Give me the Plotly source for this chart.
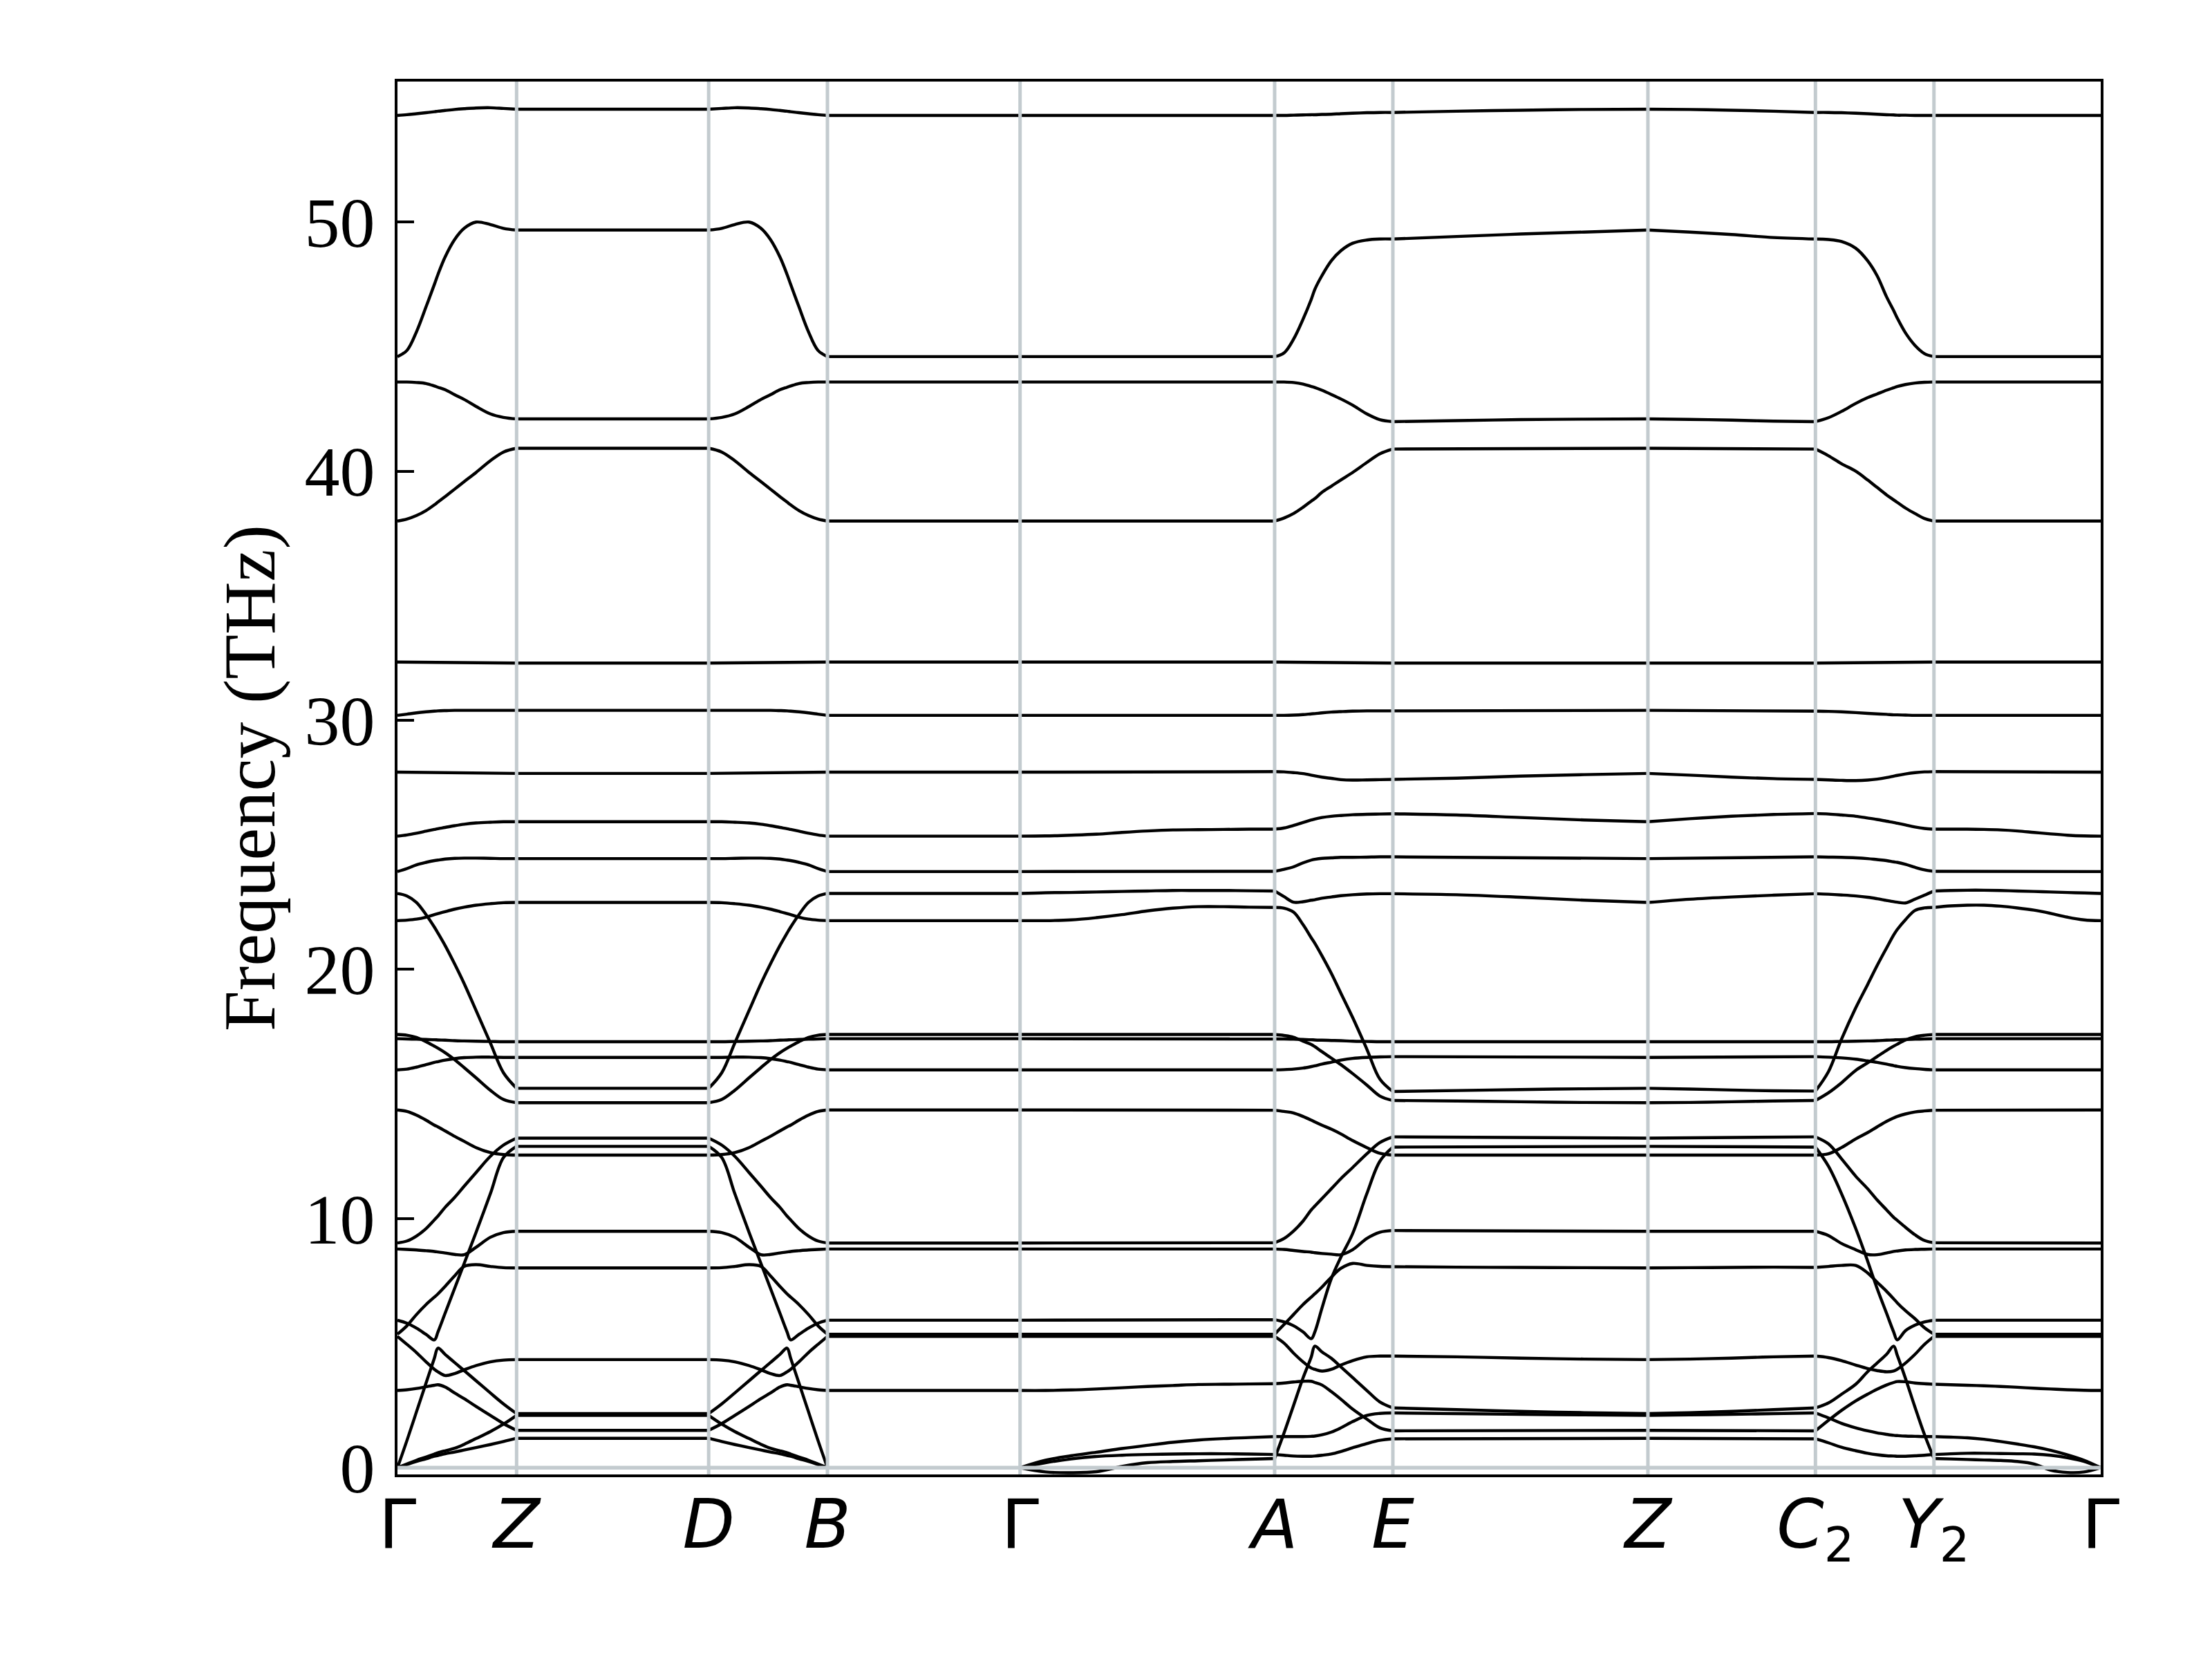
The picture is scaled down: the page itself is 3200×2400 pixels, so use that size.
import plotly.graph_objects as go

# ---- high-symmetry path ----
kpos = [0.0, 0.1723, 0.4501, 0.6219, 0.9005, 1.2687, 1.4397, 1.8086, 2.0509, 2.2223, 2.4635]
klabels = ["Γ", "<i>Z</i>", "<i>D</i>", "<i>B</i>", "Γ", "<i>A</i>", "<i>E</i>",
           "<i>Z</i>", "<i>C</i><sub>2</sub>", "<i>Y</i><sub>2</sub>", "Γ"]

# fractional sampling positions along each segment
frac_curved = [0, 0.08, 0.16, 0.24, 0.31, 0.34, 0.40, 0.48, 0.56, 0.66, 0.78, 0.89, 1.0]
frac_curved_rev = [0, 0.11, 0.22, 0.34, 0.44, 0.52, 0.60, 0.66, 0.69, 0.76, 0.84, 0.92, 1.0]
frac_ten = [0, 0.1, 0.2, 0.3, 0.4, 0.5, 0.6, 0.7, 0.8, 0.9, 1.0]
frac_quarter = [0, 0.25, 0.5, 0.75, 1.0]
frac_flat = [0, 1.0]

# ---- band frequencies (THz) per segment; 2-value bands run straight end to end ----
GZ = [
    [0, 1.1, 2.25, 3.4, 4.4, 4.8, 4.55, 4.22, 3.9, 3.49, 3.0, 2.56, 2.17],
    [0, 0.13, 0.25, 0.36, 0.46, 0.49, 0.56, 0.63, 0.71, 0.81, 0.93, 1.05, 1.18],
    [0, 0.15, 0.3, 0.43, 0.55, 0.6, 0.68, 0.78, 0.94, 1.17, 1.45, 1.75, 2.10],
    [3.10, 3.13, 3.18, 3.25, 3.31, 3.33, 3.24, 3.0, 2.77, 2.46, 2.1, 1.77, 1.50],
    [5.27, 4.95, 4.62, 4.25, 3.95, 3.85, 3.70, 3.78, 3.93, 4.1, 4.25, 4.32, 4.34],
    [5.36, 5.7, 6.15, 6.55, 6.85, 6.98, 7.28, 7.7, 8.08, 8.15, 8.08, 8.03, 8.02],
    [5.92, 5.8, 5.6, 5.35, 5.13, 5.45, 6.2, 7.2, 8.2, 9.45, 11.0, 12.45, 12.90],
    [8.78, 8.76, 8.74, 8.71, 8.68, 8.66, 8.62, 8.56, 8.55, 8.85, 9.25, 9.44, 9.49],
    [9.02, 9.1, 9.3, 9.6, 9.95, 10.1, 10.45, 10.85, 11.3, 11.85, 12.5, 12.95, 13.23],
    [14.36, 14.3, 14.15, 13.95, 13.75, 13.68, 13.52, 13.3, 13.1, 12.85, 12.65, 12.57, 12.55],
    [15.97, 16.0, 16.08, 16.18, 16.27, 16.3, 16.36, 16.42, 16.46, 16.48, 16.48, 16.47, 16.47],
    [17.22, 17.21, 17.2, 17.19, 17.18, 17.17, 17.16, 17.14, 17.13, 17.12, 17.11, 17.1, 17.10],
    [17.39, 17.36, 17.27, 17.1, 16.92, 16.84, 16.66, 16.38, 16.06, 15.65, 15.15, 14.78, 14.65],
    [21.96, 21.98, 22.02, 22.1, 22.2, 22.24, 22.32, 22.42, 22.5, 22.58, 22.64, 22.68, 22.69],
    [23.05, 22.95, 22.69, 22.2, 21.7, 21.46, 20.96, 20.22, 19.43, 18.35, 17.05, 15.85, 15.23],
    [23.93, 24.05, 24.2, 24.3, 24.37, 24.39, 24.43, 24.46, 24.47, 24.47, 24.46, 24.45, 24.45],
    [25.35, 25.4, 25.47, 25.55, 25.62, 25.65, 25.7, 25.77, 25.83, 25.88, 25.91, 25.93, 25.93],
    [27.92, 27.87],
    [30.2, 30.25, 30.3, 30.34, 30.37, 30.38, 30.39, 30.4, 30.4, 30.4, 30.4, 30.4, 30.4],
    [32.34, 32.30],
    [38.0, 38.08, 38.22, 38.42, 38.65, 38.76, 38.98, 39.28, 39.58, 39.95, 40.42, 40.77, 40.92],
    [43.58, 43.58, 43.56, 43.52, 43.42, 43.37, 43.27, 43.07, 42.88, 42.6, 42.3, 42.16, 42.1],
    [44.6, 44.85, 45.6, 46.6, 47.5, 47.9, 48.6, 49.3, 49.75, 50.0, 49.9, 49.75, 49.68],
    [54.28, 54.31, 54.35, 54.39, 54.43, 54.45, 54.48, 54.52, 54.55, 54.58, 54.59, 54.56, 54.53],
]

ZD = [[v, v] for v in [2.17, 1.18, 2.10, 1.50, 4.34, 8.02, 12.90, 9.49, 13.23, 12.55, 16.47, 17.10,
                       14.65, 22.69, 15.23, 24.45, 25.93, 27.87, 30.4, 32.30, 40.92, 42.1, 49.68, 54.53]]

DB = [
    [2.17, 2.56, 3.0, 3.49, 3.9, 4.22, 4.55, 4.8, 4.4, 3.4, 2.25, 1.1, 0],
    [1.18, 1.05, 0.93, 0.81, 0.71, 0.63, 0.56, 0.49, 0.46, 0.36, 0.25, 0.13, 0],
    [2.10, 1.75, 1.45, 1.17, 0.94, 0.78, 0.68, 0.6, 0.55, 0.43, 0.3, 0.15, 0],
    [1.50, 1.77, 2.1, 2.46, 2.77, 3.0, 3.24, 3.33, 3.31, 3.25, 3.18, 3.13, 3.10],
    [4.34, 4.32, 4.25, 4.1, 3.93, 3.78, 3.70, 3.85, 3.95, 4.25, 4.62, 4.95, 5.27],
    [8.02, 8.03, 8.08, 8.15, 8.08, 7.7, 7.28, 6.98, 6.85, 6.55, 6.15, 5.7, 5.36],
    [12.90, 12.45, 11.0, 9.45, 8.2, 7.2, 6.2, 5.45, 5.13, 5.35, 5.6, 5.8, 5.92],
    [9.49, 9.44, 9.25, 8.85, 8.55, 8.56, 8.62, 8.66, 8.68, 8.71, 8.74, 8.76, 8.78],
    [13.23, 12.95, 12.5, 11.85, 11.3, 10.85, 10.45, 10.1, 9.95, 9.6, 9.3, 9.1, 9.02],
    [12.55, 12.57, 12.65, 12.85, 13.1, 13.3, 13.52, 13.68, 13.75, 13.95, 14.15, 14.3, 14.36],
    [16.47, 16.47, 16.48, 16.48, 16.46, 16.42, 16.36, 16.3, 16.27, 16.18, 16.08, 16.0, 15.97],
    [17.10, 17.1, 17.11, 17.12, 17.13, 17.14, 17.16, 17.17, 17.18, 17.19, 17.2, 17.21, 17.22],
    [14.65, 14.78, 15.15, 15.65, 16.06, 16.38, 16.66, 16.84, 16.92, 17.1, 17.27, 17.36, 17.39],
    [22.69, 22.68, 22.64, 22.58, 22.5, 22.42, 22.32, 22.24, 22.2, 22.1, 22.02, 21.98, 21.96],
    [15.23, 15.85, 17.05, 18.35, 19.43, 20.22, 20.96, 21.46, 21.7, 22.2, 22.69, 22.95, 23.05],
    [24.45, 24.45, 24.46, 24.47, 24.47, 24.46, 24.43, 24.39, 24.37, 24.3, 24.2, 24.05, 23.93],
    [25.93, 25.93, 25.91, 25.88, 25.83, 25.77, 25.7, 25.65, 25.62, 25.55, 25.47, 25.4, 25.35],
    [27.87, 27.92],
    [30.4, 30.4, 30.4, 30.4, 30.4, 30.4, 30.39, 30.38, 30.37, 30.34, 30.3, 30.25, 30.2],
    [32.30, 32.34],
    [40.92, 40.77, 40.42, 39.95, 39.58, 39.28, 38.98, 38.76, 38.65, 38.42, 38.22, 38.08, 38.0],
    [42.1, 42.16, 42.3, 42.6, 42.88, 43.07, 43.27, 43.37, 43.42, 43.52, 43.56, 43.58, 43.58],
    [49.68, 49.75, 49.9, 50.0, 49.75, 49.3, 48.6, 47.9, 47.5, 46.6, 45.6, 44.85, 44.6],
    [54.53, 54.56, 54.59, 54.58, 54.55, 54.52, 54.48, 54.45, 54.43, 54.39, 54.35, 54.31, 54.28],
]

BG = [[v, v] for v in [0, 0, 0, 3.10, 5.27, 5.36, 5.92, 8.78, 9.02, 14.36, 15.97, 17.22, 17.39,
                       21.96, 23.05, 23.93, 25.35, 27.92, 30.2, 32.34, 38.0, 43.58, 44.6, 54.28]]

GA = [
    [0, -0.17, -0.2, -0.16, 0.05, 0.2, 0.25, 0.28, 0.31, 0.34, 0.37],
    [0, 0.2, 0.35, 0.45, 0.5, 0.53, 0.55, 0.56, 0.56, 0.55, 0.53],
    [0, 0.3, 0.48, 0.62, 0.77, 0.9, 1.02, 1.11, 1.17, 1.21, 1.25],
    [3.10, 3.10, 3.12, 3.16, 3.21, 3.26, 3.3, 3.34, 3.35, 3.36, 3.37],
    [5.27, 5.27],
    [5.36, 5.36],
    [5.92, 5.94],
    [8.78, 8.78],
    [9.02, 9.03],
    [14.36, 14.35],
    [15.97, 15.97],
    [17.22, 17.21],
    [17.39, 17.39],
    [21.96, 21.96, 21.99, 22.08, 22.2, 22.35, 22.46, 22.52, 22.52, 22.5, 22.49],
    [23.05, 23.08, 23.09, 23.11, 23.13, 23.15, 23.17, 23.17, 23.17, 23.16, 23.15],
    [23.93, 23.94],
    [25.35, 25.36, 25.39, 25.43, 25.5, 25.56, 25.6, 25.61, 25.62, 25.63, 25.63],
    [27.92, 27.94],
    [30.2, 30.2],
    [32.34, 32.34],
    [38.0, 38.0],
    [43.58, 43.58],
    [44.6, 44.6],
    [54.28, 54.28],
]

AE = [
    [0.37, 1.4, 2.5, 3.6, 4.45, 4.88, 4.65, 4.39, 4.05, 3.62, 3.1, 2.64, 2.40],
    [0.53, 0.5, 0.47, 0.46, 0.46, 0.47, 0.5, 0.55, 0.65, 0.8, 0.97, 1.1, 1.16],
    [1.25, 1.25, 1.25, 1.25, 1.26, 1.27, 1.32, 1.43, 1.6, 1.85, 2.1, 2.18, 2.2],
    [3.37, 3.4, 3.44, 3.47, 3.47, 3.42, 3.32, 3.05, 2.75, 2.35, 1.95, 1.6, 1.48],
    [5.27, 5.0, 4.6, 4.25, 4.0, 3.95, 3.88, 3.95, 4.12, 4.3, 4.45, 4.48, 4.48],
    [5.36, 5.75, 6.15, 6.55, 6.85, 6.98, 7.25, 7.65, 8.0, 8.2, 8.12, 8.08, 8.07],
    [5.94, 5.85, 5.7, 5.45, 5.18, 5.45, 6.4, 7.6, 8.45, 9.4, 11.0, 12.3, 12.87],
    [8.78, 8.76, 8.72, 8.68, 8.65, 8.63, 8.6, 8.57, 8.55, 8.75, 9.2, 9.45, 9.52],
    [9.03, 9.2, 9.5, 9.9, 10.35, 10.5, 10.8, 11.2, 11.6, 12.05, 12.6, 13.05, 13.28],
    [14.35, 14.3, 14.24, 14.1, 13.95, 13.88, 13.75, 13.59, 13.4, 13.13, 12.85, 12.62, 12.55],
    [15.97, 15.98, 16.0, 16.04, 16.1, 16.13, 16.2, 16.28, 16.36, 16.43, 16.47, 16.49, 16.5],
    [17.21, 17.21, 17.2, 17.19, 17.18, 17.17, 17.16, 17.15, 17.14, 17.12, 17.11, 17.1, 17.1],
    [17.39, 17.35, 17.28, 17.12, 16.99, 16.9, 16.7, 16.44, 16.18, 15.82, 15.36, 14.92, 14.74],
    [22.49, 22.46, 22.3, 21.8, 21.27, 21.05, 20.55, 19.84, 19.05, 18.07, 16.8, 15.6, 15.1],
    [23.15, 22.92, 22.7, 22.72, 22.78, 22.8, 22.86, 22.91, 22.96, 23.0, 23.03, 23.04, 23.04],
    [23.94, 24.02, 24.12, 24.28, 24.39, 24.42, 24.46, 24.48, 24.5, 24.5, 24.51, 24.52, 24.52],
    [25.63, 25.68, 25.78, 25.9, 26.0, 26.04, 26.1, 26.15, 26.18, 26.21, 26.23, 26.24, 26.25],
    [27.94, 27.93, 27.9, 27.86, 27.8, 27.77, 27.72, 27.67, 27.62, 27.6, 27.61, 27.62, 27.63],
    [30.2, 30.2, 30.21, 30.23, 30.26, 30.27, 30.3, 30.33, 30.35, 30.37, 30.38, 30.38, 30.38],
    [32.34, 32.30],
    [38.0, 38.12, 38.3, 38.55, 38.8, 38.9, 39.15, 39.4, 39.65, 39.95, 40.35, 40.7, 40.89],
    [43.58, 43.58, 43.56, 43.5, 43.4, 43.36, 43.25, 43.08, 42.9, 42.65, 42.3, 42.07, 41.99],
    [44.6, 44.75, 45.3, 46.1, 46.9, 47.3, 47.85, 48.45, 48.85, 49.15, 49.28, 49.32, 49.32],
    [54.28, 54.28, 54.29, 54.3, 54.31, 54.31, 54.32, 54.33, 54.35, 54.37, 54.39, 54.4, 54.4],
]

EZ = [
    [2.40, 2.33, 2.26, 2.21, 2.17],
    [1.16, 1.18],
    [2.2, 2.17, 2.14, 2.12, 2.10],
    [1.48, 1.50],
    [4.48, 4.45, 4.4, 4.36, 4.34],
    [8.07, 8.05, 8.04, 8.03, 8.02],
    [12.87, 12.90],
    [9.52, 9.49],
    [13.28, 13.23],
    [12.55, 12.55],
    [16.5, 16.47],
    [17.1, 17.1],
    [14.74, 14.72, 14.69, 14.66, 14.65],
    [15.1, 15.14, 15.18, 15.21, 15.23],
    [23.04, 23.0, 22.9, 22.78, 22.69],
    [24.52, 24.45],
    [26.25, 26.2, 26.1, 26.0, 25.93],
    [27.63, 27.68, 27.76, 27.82, 27.87],
    [30.38, 30.4],
    [32.30, 32.30],
    [40.89, 40.92],
    [41.99, 42.03, 42.07, 42.09, 42.1],
    [49.32, 49.42, 49.52, 49.6, 49.68],
    [54.4, 54.45, 54.49, 54.52, 54.53],
]

ZC = [
    [2.17, 2.21, 2.26, 2.33, 2.40],
    [1.18, 1.16],
    [2.10, 2.12, 2.14, 2.17, 2.2],
    [1.50, 1.48],
    [4.34, 4.36, 4.4, 4.45, 4.48],
    [8.02, 8.03, 8.04, 8.05, 8.04],
    [12.90, 12.87],
    [9.49, 9.49],
    [13.23, 13.28],
    [12.55, 12.55],
    [16.47, 16.5],
    [17.1, 17.1],
    [14.65, 14.66, 14.69, 14.72, 14.74],
    [15.23, 15.2, 15.16, 15.13, 15.12],
    [22.69, 22.82, 22.91, 22.98, 23.04],
    [24.45, 24.52],
    [25.93, 26.05, 26.15, 26.22, 26.26],
    [27.87, 27.8, 27.72, 27.66, 27.63],
    [30.4, 30.37],
    [32.30, 32.30],
    [40.92, 40.89],
    [42.1, 42.08, 42.05, 42.01, 41.99],
    [49.68, 49.6, 49.5, 49.38, 49.32],
    [54.53, 54.52, 54.49, 54.45, 54.4],
]

CY = [
    [2.40, 2.6, 2.95, 3.35, 3.85, 4.2, 4.55, 4.88, 4.52, 3.58, 2.43, 1.33, 0.37],
    [1.16, 1.0, 0.82, 0.68, 0.58, 0.52, 0.48, 0.47, 0.46, 0.46, 0.48, 0.5, 0.53],
    [2.2, 2.0, 1.78, 1.6, 1.48, 1.4, 1.34, 1.3, 1.29, 1.27, 1.26, 1.25, 1.25],
    [1.48, 1.9, 2.3, 2.68, 2.95, 3.15, 3.32, 3.42, 3.46, 3.45, 3.4, 3.37, 3.35],
    [4.48, 4.42, 4.3, 4.12, 3.98, 3.9, 3.85, 3.88, 3.95, 4.2, 4.55, 4.95, 5.27],
    [8.04, 8.08, 8.12, 8.12, 7.82, 7.45, 7.08, 6.78, 6.62, 6.3, 5.98, 5.62, 5.36],
    [12.87, 12.1, 11.0, 9.6, 8.3, 7.2, 6.2, 5.45, 5.13, 5.5, 5.72, 5.85, 5.92],
    [9.49, 9.32, 9.0, 8.75, 8.56, 8.55, 8.62, 8.68, 8.7, 8.74, 8.76, 8.77, 8.78],
    [13.28, 13.0, 12.4, 11.7, 11.2, 10.75, 10.35, 10.05, 9.93, 9.65, 9.35, 9.12, 9.03],
    [12.55, 12.6, 12.85, 13.2, 13.45, 13.68, 13.9, 14.04, 14.1, 14.2, 14.28, 14.32, 14.35],
    [16.5, 16.48, 16.45, 16.4, 16.33, 16.27, 16.2, 16.14, 16.11, 16.06, 16.02, 15.99, 15.97],
    [17.1, 17.1, 17.11, 17.12, 17.13, 17.14, 17.16, 17.17, 17.18, 17.19, 17.2, 17.21, 17.22],
    [14.74, 15.05, 15.45, 15.95, 16.25, 16.5, 16.75, 16.92, 17.0, 17.17, 17.3, 17.36, 17.39],
    [15.12, 15.9, 17.2, 18.46, 19.39, 20.15, 20.86, 21.38, 21.6, 22.0, 22.37, 22.47, 22.49],
    [23.04, 23.02, 22.99, 22.95, 22.9, 22.84, 22.77, 22.72, 22.7, 22.67, 22.82, 22.98, 23.15],
    [24.52, 24.51, 24.5, 24.48, 24.45, 24.41, 24.37, 24.32, 24.3, 24.22, 24.1, 24.0, 23.94],
    [26.26, 26.24, 26.2, 26.15, 26.08, 26.02, 25.95, 25.9, 25.87, 25.8, 25.72, 25.66, 25.63],
    [27.63, 27.61, 27.59, 27.58, 27.6, 27.64, 27.7, 27.76, 27.79, 27.85, 27.9, 27.93, 27.94],
    [30.37, 30.36, 30.34, 30.31, 30.28, 30.26, 30.24, 30.22, 30.22, 30.21, 30.2, 30.2, 30.2],
    [32.30, 32.34],
    [40.89, 40.62, 40.3, 40.0, 39.65, 39.35, 39.05, 38.85, 38.75, 38.52, 38.3, 38.1, 38.0],
    [41.99, 42.15, 42.4, 42.72, 42.95, 43.1, 43.25, 43.35, 43.4, 43.48, 43.54, 43.57, 43.58],
    [49.32, 49.3, 49.22, 48.95, 48.45, 47.85, 47.0, 46.45, 46.15, 45.55, 45.05, 44.72, 44.6],
    [54.4, 54.4, 54.39, 54.37, 54.35, 54.33, 54.31, 54.3, 54.29, 54.29, 54.28, 54.28, 54.28],
]

YG = [
    [0.37, 0.35, 0.33, 0.31, 0.29, 0.25, 0.15, -0.1, -0.19, -0.17, 0],
    [0.53, 0.56, 0.58, 0.58, 0.57, 0.56, 0.55, 0.5, 0.4, 0.25, 0],
    [1.25, 1.23, 1.2, 1.14, 1.05, 0.95, 0.84, 0.7, 0.52, 0.3, 0],
    [3.35, 3.33, 3.31, 3.29, 3.26, 3.23, 3.19, 3.16, 3.13, 3.11, 3.10],
    [5.27, 5.27],
    [5.36, 5.36],
    [5.92, 5.92],
    [8.78, 8.78],
    [9.03, 9.02],
    [14.35, 14.36],
    [15.97, 15.97],
    [17.22, 17.22],
    [17.39, 17.39],
    [22.49, 22.55, 22.58, 22.58, 22.54, 22.47, 22.38, 22.25, 22.1, 21.99, 21.96],
    [23.15, 23.17, 23.18, 23.18, 23.17, 23.15, 23.13, 23.11, 23.09, 23.07, 23.05],
    [23.94, 23.93],
    [25.63, 25.63, 25.63, 25.62, 25.6, 25.56, 25.5, 25.44, 25.39, 25.36, 25.35],
    [27.94, 27.92],
    [30.2, 30.2],
    [32.34, 32.34],
    [38.0, 38.0],
    [43.58, 43.58],
    [44.6, 44.6],
    [54.28, 54.28],
]

segments = [
    (0, 1, frac_curved, GZ),
    (1, 2, frac_flat, ZD),
    (2, 3, frac_curved_rev, DB),
    (3, 4, frac_flat, BG),
    (4, 5, frac_ten, GA),
    (5, 6, frac_curved, AE),
    (6, 7, frac_quarter, EZ),
    (7, 8, frac_quarter, ZC),
    (8, 9, frac_curved_rev, CY),
    (9, 10, frac_ten, YG),
]

xs, ys = [], []
for i0, i1, fr, bands in segments:
    x0, x1 = kpos[i0], kpos[i1]
    for b in bands:
        f = fr if len(b) == len(fr) else frac_flat
        xs += [x0 + t * (x1 - x0) for t in f] + [None]
        ys += list(b) + [None]

y_min, y_max = -0.27, 55.64
grey = "#c3cbcf"

fig = go.Figure()
fig.add_trace(go.Scatter(x=xs, y=ys, mode="lines", connectgaps=False,
                         line=dict(color="black", width=4.4, shape="spline", smoothing=1.0),
                         hoverinfo="skip", showlegend=False))

shapes = []
for xk in kpos[1:-1]:
    shapes.append(dict(type="line", xref="x", yref="y", x0=xk, x1=xk, y0=y_min, y1=y_max,
                       line=dict(color=grey, width=5), layer="above"))
shapes.append(dict(type="line", xref="x", yref="y", x0=kpos[0], x1=kpos[-1], y0=0, y1=0,
                   line=dict(color=grey, width=5.5), layer="above"))

fig.update_layout(
    width=3200, height=2400,
    margin=dict(l=575, r=161, t=118, b=267),
    paper_bgcolor="white", plot_bgcolor="white",
    shapes=shapes,
    showlegend=False,
)
fig.update_xaxes(
    range=[kpos[0], kpos[-1]], tickmode="array", tickvals=kpos, ticktext=klabels,
    showgrid=False, zeroline=False, showline=True, mirror=True, linecolor="black", linewidth=4,
    ticks="", ticklabelstandoff=-16,
    tickfont=dict(family="DejaVu Sans", size=98, color="black"),
)
fig.update_yaxes(
    range=[y_min, y_max], tickmode="array", tickvals=[0, 10, 20, 30, 40, 50],
    showgrid=False, zeroline=False, showline=True, mirror=True, linecolor="black", linewidth=4,
    ticks="inside", ticklen=24, tickwidth=4, tickcolor="black", ticklabelstandoff=8,
    tickfont=dict(family="Liberation Serif", size=102, color="black"),
    title=dict(text="Frequency (THz)", standoff=8,
               font=dict(family="Liberation Serif", size=106, color="black")),
)

fig.write_html("out.html")
